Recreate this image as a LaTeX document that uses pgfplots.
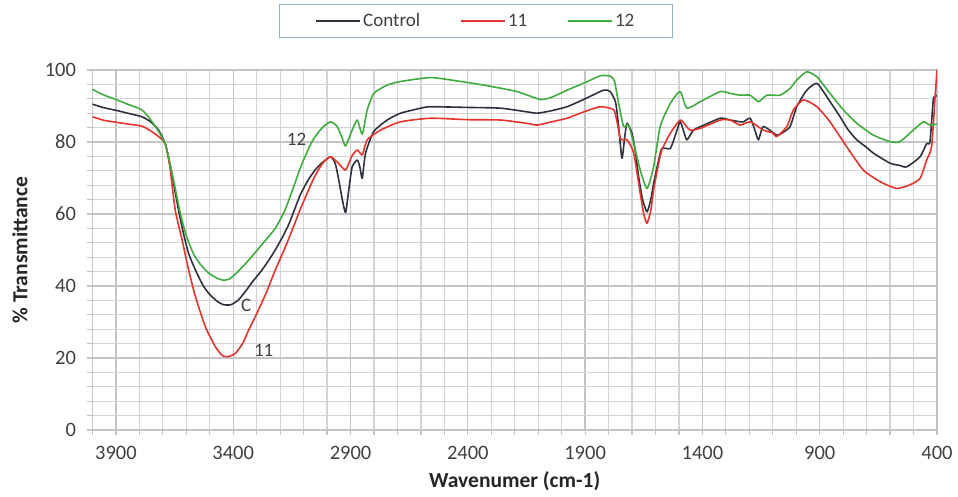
\documentclass[border=0pt]{standalone}
\usepackage{pgfplots}
\pgfplotsset{compat=1.18}
\usepackage{pgfplotstable}
\usepackage{fontspec}
\setmainfont{Carlito}
\definecolor{cctrl}{RGB}{45,50,62}
\definecolor{cred}{RGB}{230,52,44}
\definecolor{cgreen}{RGB}{62,172,62}
\definecolor{gmaj}{RGB}{196,196,196}
\definecolor{gmin}{RGB}{212,212,212}
\definecolor{ctext}{RGB}{64,64,64}
\definecolor{lborder}{RGB}{150,178,200}

\pgfplotstableread{
w v
4000 90.5
3950 89.5
3900 88.8
3850 88
3789 87
3750 85.5
3718 83.3
3690 79.5
3670 74
3650 67
3630 60
3610 54
3590 49
3561 44.4
3530 40.3
3505 38
3470 35.8
3441 34.8
3410 34.8
3380 36
3350 38.3
3320 41
3278 44.4
3250 47
3221 50
3190 53.6
3164 57
3140 61
3113 65.5
3080 69.5
3050 72.3
3020 74.3
2985 75.9
2965 74
2950 69.4
2935 64
2921 60.4
2907 67
2893 73.1
2871 75
2860 73
2850 69.9
2836 76.9
2801 82.9
2744 86.1
2687 88
2600 89.4
2559 89.8
2400 89.6
2261 89.4
2150 88.4
2105 88
2050 88.6
1977 89.8
1900 92
1821 94.4
1793 94
1770 91
1757 84.3
1743 75.5
1730 82
1721 85.2
1700 82.4
1685 77
1672 70.4
1655 64
1636 60.6
1620 64
1608 68.5
1590 74
1573 78.2
1537 78.2
1515 82
1495 85.6
1480 83
1466 80.6
1438 83.3
1400 84.5
1324 86.6
1282 86.1
1239 85.6
1225 85.6
1196 86.6
1175 83
1161 80.6
1140 84.3
1083 81.9
1060 82.5
1026 84.3
998 89.8
955 94.4
912 96.3
870 92.6
813 87
780 83.5
742 80.6
700 78.5
671 76.9
600 74.1
560 73.5
529 73.1
472 75.9
444 79.6
430 80
416 91.7
408 92.5
401 93
}\tctrl

\pgfplotstableread{
w v
4000 87
3950 86
3900 85.5
3850 85
3789 84.4
3750 83
3718 81.5
3690 79.5
3670 73
3647 61
3618 52.8
3590 44.4
3561 37
3519 28.7
3476 23.1
3445 20.6
3420 20.4
3391 21.3
3360 24
3334 27.8
3300 32.3
3260 38
3221 44.4
3180 50.5
3140 57
3113 61.5
3080 66.5
3056 70
3020 74
2985 75.9
2950 74
2921 72.2
2895 76
2871 77.8
2850 76.4
2829 80.6
2772 83.3
2687 85.6
2559 86.6
2400 86.2
2261 86.1
2150 85.2
2105 84.7
2050 85.5
1977 86.6
1900 88.5
1835 89.8
1779 89
1765 86
1750 81
1735 80.6
1721 80.6
1693 77
1665 65.7
1650 60
1636 57.4
1620 61
1608 66.7
1590 73
1573 77.8
1537 82.4
1495 86.1
1470 84.5
1452 83.3
1409 83.8
1324 86.1
1282 86.1
1239 84.7
1196 85.6
1140 83.3
1100 82.5
1083 81.5
1040 84.3
1012 88.9
969 91.7
912 89.8
856 85.6
785 78.7
714 72.2
643 69
572 67.1
515 68.1
472 69.9
444 75
423 78.7
409 91.7
400 100
}\televen

\pgfplotstableread{
w v
4000 94.6
3950 93
3900 91.8
3850 90.5
3789 88.9
3750 86
3718 82.9
3690 79.5
3670 74
3650 68
3625 60
3600 54
3570 49
3540 46
3505 43.6
3470 42.2
3441 41.6
3415 42
3380 44
3334 47.2
3278 51.5
3221 56
3180 61
3140 68
3113 73
3080 78
3056 81
3020 84
2985 85.6
2957 84.3
2935 81
2921 78.9
2893 83.3
2871 86.1
2850 82.2
2829 88.9
2801 93.5
2744 95.8
2687 96.8
2559 97.9
2450 97
2332 95.8
2190 94
2091 91.8
2040 92.5
1977 94.4
1900 96.5
1835 98.4
1793 98.3
1775 97
1757 90.7
1736 84.3
1715 84.7
1693 79.6
1665 72.2
1636 67.1
1608 73.1
1580 84.3
1537 90.7
1495 94
1466 89.4
1409 91.2
1324 94
1282 93.5
1239 93
1196 93
1161 91.2
1125 93
1069 93
1026 94.9
998 97.2
955 99.5
912 98.1
856 93.5
799 88.9
742 85.2
671 81.9
600 80.1
558 80.1
501 83.3
458 85.6
430 84.7
401 85
}\ttwelve

\begin{document}
\begin{tikzpicture}
\path[use as bounding box] (-92.5pt,-67pt) rectangle (865.5pt,430pt);
\begin{axis}[
  at={(0,0)}, anchor=south west,
  scale only axis,
  width=844.5pt, height=360pt,
  x dir=reverse,
  xmin=400, xmax=4000,
  ymin=0, ymax=100,
  xtick={3900,3400,2900,2400,1900,1400,900,400},
  ytick={0,20,40,60,80,100},
  minor xtick={400,500,...,4000},
  minor ytick={0,4,...,100},
  grid=both,
  major grid style={draw=gmaj, line width=1.3pt},
  minor grid style={draw=gmin, line width=1.2pt},
  axis line style={draw=gmaj, line width=1.3pt},
  tick align=outside,
  xtick pos=bottom,
  ytick pos=left,
  tick style={draw=gmaj, line width=1.2pt},
  major tick length=5pt, minor tick length=5pt,
  /pgf/number format/assume math mode=true,
  /pgf/number format/1000 sep={},
  ticklabel style={font=\fontsize{20.5}{24}\selectfont, text=ctext},
  xticklabel style={yshift=-8pt},
  yticklabel style={xshift=-8pt},
  xlabel={\textbf{Wavenumer (cm-1)}},
  ylabel={\textbf{\% Transmittance}},
  label style={font=\fontsize{21.5}{25}\selectfont, text=black!85},
  xlabel style={at={(axis description cs:0.5,-0.142)}, anchor=center},
  ylabel style={at={(axis description cs:-0.0859,0.5)}, anchor=center, rotate=0},
  legend style={at={(axis description cs:0.454,1.136)}, anchor=center,
    legend columns=3, draw=lborder, line width=1pt,
    inner xsep=36pt, inner ysep=7pt,
    font=\fontsize{19}{22}\selectfont, text=ctext,
    nodes={inner xsep=2pt},
    /tikz/every even column/.append style={column sep=38pt}},
  legend image code/.code={\draw[#1, line width=1.8pt] (0pt,0pt) -- (44pt,0pt);},
  every axis plot/.append style={line width=1.6pt, line join=round, smooth, tension=0.35},
]
\addplot[cctrl] table[x=w,y=v] {\tctrl};
\addlegendentry{Control}
\addplot[cred] table[x=w,y=v] {\televen};
\addlegendentry{11}
\addplot[cgreen] table[x=w,y=v] {\ttwelve};
\addlegendentry{12}
\node[font=\fontsize{19}{22}\selectfont, text=ctext] at (axis cs:3130,80.8) {12};
\node[font=\fontsize{19}{22}\selectfont, text=ctext] at (axis cs:3345,34.5) {C};
\node[font=\fontsize{19}{22}\selectfont, text=ctext] at (axis cs:3270,22) {11};
\end{axis}
\end{tikzpicture}
\end{document}
